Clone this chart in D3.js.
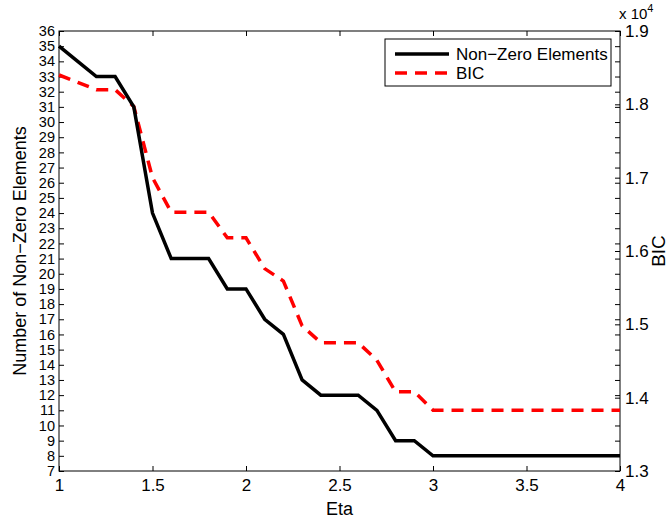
<!DOCTYPE html>
<html>
<head>
<meta charset="utf-8">
<script src="https://cdn.jsdelivr.net/npm/d3@7"></script>
<style>
  html, body { margin: 0; padding: 0; background: #fff; }
  svg { display: block; }
  text { font-family: "Liberation Sans", Arial, Helvetica, sans-serif; fill: #000; }
</style>
</head>
<body>
<svg id="chart" width="671" height="521"></svg>
<script>
// ---- data ----
const eta = [1.0,1.1,1.2,1.3,1.4,1.5,1.6,1.7,1.8,1.9,2.0,2.1,2.2,2.3,2.4,2.5,2.6,2.7,2.8,2.9,3.0,
             3.1,3.2,3.3,3.4,3.5,3.6,3.7,3.8,3.9,4.0];
const nonZero = [35,34,33,33,31,24,21,21,21,19,19,17,16,13,12,12,12,11,9,9,8,
                 8,8,8,8,8,8,8,8,8,8];
const bic = [18400,18300,18200,18200,17970,17000,16530,16530,16530,16180,16180,15760,15590,14980,14750,14750,14750,14510,14080,14080,13830,
             13830,13830,13830,13830,13830,13830,13830,13830,13830,13830];
const xTicks = [1,1.5,2,2.5,3,3.5,4];
const yLeftTicks = d3.range(7, 37);
const yRightTicks = [13000,14000,15000,16000,17000,18000,19000];
const seriesNames = ["Non\u2212Zero Elements", "BIC"];

// ---- layout ----
const svg = d3.select("#chart");
const L = 59, R = 620, T = 31, B = 471;
const x = d3.scaleLinear().domain([1, 4]).range([L, R]);
const yL = d3.scaleLinear().domain([7, 36]).range([B, T]);
const yR = d3.scaleLinear().domain([13000, 19000]).range([B, T]);
const FS = 17;

svg.append("rect").attr("width", 671).attr("height", 521).attr("fill", "#fff");

function styleAxis(fs) {
  return g => {
    g.select(".domain").remove();
    g.selectAll(".tick line").attr("stroke", "#000").attr("stroke-width", 1);
    g.selectAll("text").attr("font-size", fs).attr("fill", "#000")
      .style("font-family", '"Liberation Sans", Arial, sans-serif');
  };
}

// bottom x axis
svg.append("g").attr("transform", `translate(0,${B})`)
  .call(d3.axisBottom(x).tickValues(xTicks).tickSizeInner(-5).tickSizeOuter(0).tickPadding(8)
    .tickFormat(d => d3.format("")(d)))
  .call(styleAxis(FS));
// top mirror
svg.append("g").attr("transform", `translate(0,${T})`)
  .call(d3.axisTop(x).tickValues(xTicks).tickSizeInner(-5).tickSizeOuter(0).tickFormat(""))
  .call(styleAxis(FS));
// left axis
svg.append("g").attr("transform", `translate(${L},0)`)
  .call(d3.axisLeft(yL).tickValues(yLeftTicks).tickSizeInner(-5).tickSizeOuter(0).tickPadding(4))
  .call(styleAxis(14.5));
// left ticks mirrored on right
svg.append("g").attr("transform", `translate(${R},0)`)
  .call(d3.axisRight(yL).tickValues(yLeftTicks).tickSizeInner(-5).tickSizeOuter(0).tickFormat(""))
  .call(styleAxis(FS));
// right axis
svg.append("g").attr("transform", `translate(${R},0)`)
  .call(d3.axisRight(yR).tickValues(yRightTicks).tickSizeInner(-5).tickSizeOuter(0).tickPadding(5)
    .tickFormat(d => d3.format(".1f")(d / 1e4)))
  .call(styleAxis(FS));

// frame
svg.append("rect").attr("x", L).attr("y", T).attr("width", R - L).attr("height", B - T)
  .attr("fill", "none").attr("stroke", "#000").attr("stroke-width", 1);

// lines
const lineL = d3.line().x((d, i) => x(eta[i])).y(d => yL(d));
const lineR = d3.line().x((d, i) => x(eta[i])).y(d => yR(d));
svg.append("path").datum(bic).attr("d", lineR).attr("fill", "none")
  .attr("stroke", "#ff0000").attr("stroke-width", 3.5).attr("stroke-dasharray", "12,8");
svg.append("path").datum(nonZero).attr("d", lineL).attr("fill", "none")
  .attr("stroke", "#000").attr("stroke-width", 3.5).attr("stroke-linejoin", "miter");

// axis labels
svg.append("text").attr("x", (L + R) / 2).attr("y", 515).attr("text-anchor", "middle")
  .attr("font-size", 18).text("Eta");
svg.append("text").attr("transform", `translate(26,${(T + B) / 2}) rotate(-90)`)
  .attr("text-anchor", "middle").attr("font-size", 18).text("Number of Non\u2212Zero Elements");
svg.append("text").attr("transform", `translate(665,${(T + B) / 2}) rotate(-90)`)
  .attr("text-anchor", "middle").attr("font-size", 19).text("BIC");

// exponent label
const ex = svg.append("text").attr("x", 619).attr("y", 19).attr("font-size", 15);
ex.append("tspan").text("x 10");
ex.append("tspan").attr("dy", -7).attr("font-size", 11).text("4");

// legend
const lg = svg.append("g");
lg.append("rect").attr("x", 385).attr("y", 39).attr("width", 226).attr("height", 47)
  .attr("fill", "#fff").attr("stroke", "#000").attr("stroke-width", 1);
const legendStyles = [
  { color: "#000", dash: null },
  { color: "#ff0000", dash: "12,8" }
];
seriesNames.forEach((name, i) => {
  const yy = 54 + i * 19;
  lg.append("line").attr("x1", 395).attr("x2", 449).attr("y1", yy).attr("y2", yy)
    .attr("stroke", legendStyles[i].color).attr("stroke-width", 3.5)
    .attr("stroke-dasharray", legendStyles[i].dash);
  lg.append("text").attr("x", 456).attr("y", yy + 6).attr("font-size", FS).text(name);
});
</script>
</body>
</html>
